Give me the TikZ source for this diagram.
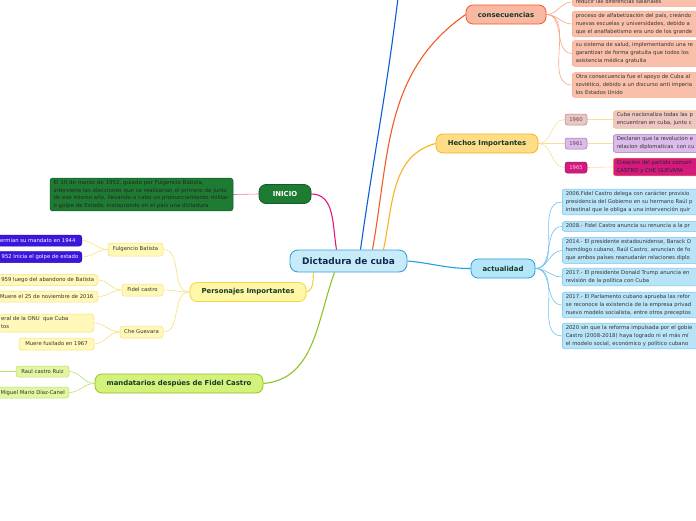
\documentclass[tikz,border=0pt]{standalone}
\usepackage{fontspec}
\setmainfont{DejaVu Sans}
\usetikzlibrary{backgrounds}

\definecolor{rootfill}{HTML}{C8EBFA}
\definecolor{rootline}{HTML}{3E9ED8}
\definecolor{roottext}{HTML}{10294F}
\definecolor{topictext}{HTML}{163A28}
\definecolor{leaftext}{HTML}{333333}
\definecolor{inicioline}{HTML}{E5157F}
\definecolor{iniciofill}{HTML}{1E7B32}
\definecolor{inicioedge}{HTML}{115C22}
\definecolor{persfill}{HTML}{FFF6A6}
\definecolor{persline}{HTML}{F2D53C}
\definecolor{persleaf}{HTML}{FFF8B8}
\definecolor{persedge}{HTML}{F6E07A}
\definecolor{batfill}{HTML}{3C16DD}
\definecolor{batedge}{HTML}{2A0FB0}
\definecolor{mandfill}{HTML}{D4F17C}
\definecolor{mandline}{HTML}{8FC31F}
\definecolor{mandleaf}{HTML}{E2F5A0}
\definecolor{mandedge}{HTML}{BCE06E}
\definecolor{consfill}{HTML}{F9B8A1}
\definecolor{consline}{HTML}{F15A29}
\definecolor{consleaf}{HTML}{F9BFAA}
\definecolor{consedge}{HTML}{F8A487}
\definecolor{hechfill}{HTML}{FEDC88}
\definecolor{hechline}{HTML}{F8B21A}
\definecolor{hechtwig}{HTML}{FCDD9A}
\definecolor{yrAfill}{HTML}{E9C6C6}
\definecolor{yrAedge}{HTML}{B88484}
\definecolor{yrBfill}{HTML}{DCBBE8}
\definecolor{yrBedge}{HTML}{9C71B4}
\definecolor{yrCfill}{HTML}{D4197F}
\definecolor{yrCedge}{HTML}{A4105E}
\definecolor{detAfill}{HTML}{EEC7C1}
\definecolor{detAedge}{HTML}{F3C67E}
\definecolor{detCedge}{HTML}{F0A040}
\definecolor{actfill}{HTML}{B5E5F9}
\definecolor{actline}{HTML}{1E9FE2}
\definecolor{actleaf}{HTML}{B9E4F8}
\definecolor{actedge}{HTML}{6CC3EF}
\definecolor{topline}{HTML}{0A5ED6}

\tikzset{
  root/.style={draw=rootline, fill=rootfill, line width=0.9pt, rounded corners=8pt,
    font=\bfseries\fontsize{9}{10}\selectfont, text=roottext,
    minimum width=117pt, minimum height=22pt, inner sep=0pt},
  topic/.style={line width=0.8pt, rounded corners=7pt,
    font=\bfseries\fontsize{6.9}{8}\selectfont, text=topictext,
    minimum height=19pt, inner sep=0pt},
  leaf/.style={line width=0.5pt, rounded corners=2.5pt,
    font=\fontsize{5.3}{8}\selectfont, text=leaftext, align=left,
    inner xsep=3.5pt, inner ysep=2.3pt},
  farleaf/.style={leaf, anchor=west, text width=200pt},
  branch/.style={line width=1.1pt},
  twig/.style={line width=0.6pt},
}

\begin{document}
\begin{tikzpicture}[x=1pt,y=1pt]
  \useasboundingbox (0,0) rectangle (696,-520); %Page size

  \node[root] (cuba) at (348.5,-261) {Dictadura de cuba}; %Central topic

  % INICIO
  \node[topic, draw=inicioedge, fill=iniciofill, text=white, minimum width=52pt] (inicio) at (285,-194) {INICIO};
  \node[leaf, draw=inicioedge, fill=iniciofill, text=black!85, text width=176pt, font=\fontsize{5.5}{7.6}\selectfont] (golpe) at (141.5,-194.5)
    {El 10 de marzo de 1952, guiado por Fulgencio Batista,\\interviene las elecciones que se realizarían el primero de junio\\de ese mismo año, llevando a cabo un pronunciamiento militar\\o golpe de Estado, instaurando en el país una dictadura};

  % Personajes Importantes
  \node[topic, draw=persline, fill=persfill, minimum width=116pt] (pers) at (248,-292) {Personajes Importantes};
  \node[leaf, draw=persedge, fill=persleaf, minimum width=55pt, minimum height=13pt, inner sep=0pt] (batista) at (135.5,-249.5) {Fulgencio Batista};
  \node[leaf, draw=persedge, fill=persleaf, minimum width=41pt, minimum height=12pt, inner sep=0pt] (fidel) at (142.5,-290) {Fidel castro};
  \node[leaf, draw=persedge, fill=persleaf, minimum width=43pt, minimum height=12pt, inner sep=0pt] (che) at (141.5,-332) {Che Guevara};
  \node[leaf, draw=batedge, fill=batfill, text=white, anchor=east, minimum width=88pt, minimum height=11pt, inner ysep=0pt] (bat1) at (82,-240.5) {ermian su mandato en 1944};
  \node[leaf, draw=batedge, fill=batfill, text=white, anchor=east, minimum width=82pt, minimum height=11pt, inner ysep=0pt] (bat2) at (82,-257) {952 Inicia el golpe de estado};
  \node[leaf, draw=persedge, fill=persleaf, anchor=east, minimum width=100pt, minimum height=11pt, inner ysep=0pt] (fid1) at (98,-280) {959 luego del abandono de Batista};
  \node[leaf, draw=persedge, fill=persleaf, anchor=east, minimum width=102pt, minimum height=11pt, inner ysep=0pt] (fid2) at (98,-296.5) {Muere el 25 de noviembre de 2016};
  \node[leaf, draw=persedge, fill=persleaf, anchor=east, minimum width=118pt, minimum height=18pt, inner ysep=0pt] (che1) at (94,-323) {eral de la ONU\ \ que Cuba\\tos};
  \node[leaf, draw=persedge, fill=persleaf, minimum width=75pt, minimum height=12pt, inner ysep=0pt] (che2) at (56.5,-344) {Muere fusilado en 1967};

  % mandatarios
  \node[topic, draw=mandline, fill=mandfill, minimum width=168pt] (mand) at (179,-383.5) {mandatarios despúes de Fidel Castro};
  \node[leaf, draw=mandedge, fill=mandleaf, minimum width=53pt, minimum height=11pt, inner sep=0pt] (raul) at (42.5,-371.5) {Raul castro Ruiz};
  \node[leaf, draw=mandedge, fill=mandleaf, anchor=east, minimum width=72pt, minimum height=11pt, inner ysep=0pt] (canel) at (69,-392.5) {Miguel Mario Díaz-Canel};
  \coordinate (raulout) at (-2,-371.5);

  % consecuencias
  \node[topic, draw=consline, fill=consfill, minimum width=80pt] (cons) at (506,-14.5) {consecuencias};
  \node[farleaf, draw=consedge, fill=consleaf, anchor=south west] (cons0) at (572,-6.5) {reducir las diferencias salariales};
  \node[farleaf, draw=consedge, fill=consleaf] (cons1) at (572,-24) {proceso de alfabetización del país, creándo\\nuevas escuelas y universidades, debido a\\que el analfabetismo era uno de los grande};
  \node[farleaf, draw=consedge, fill=consleaf] (cons2) at (572,-53.5) {su sistema de salud, implementando una re\\garantizar de forma gratuita que todos los\\asistencia médica gratuita};
  \node[farleaf, draw=consedge, fill=consleaf] (cons3) at (572,-85) {Otra consecuencia fue el apoyo de Cuba al\\soviético, debido a un discurso anti imperia\\los Estados Unido};
  \coordinate (topout) at (398,2);

  % Hechos Importantes
  \node[topic, draw=hechline, fill=hechfill, minimum width=102pt] (hech) at (487,-143.5) {Hechos Importantes};
  \node[leaf, draw=yrAedge, fill=yrAfill, text=yrAedge!60!black, minimum width=22pt, minimum height=11pt, inner sep=0pt] (y1960) at (576,-119.5) {1960};
  \node[leaf, draw=yrBedge, fill=yrBfill, text=yrBedge!60!black, minimum width=22pt, minimum height=11pt, inner sep=0pt] (y1961) at (576,-143.5) {1961};
  \node[leaf, draw=yrCedge, fill=yrCfill, text=yrCfill!25, minimum width=22pt, minimum height=11pt, inner sep=0pt] (y1965) at (576,-167.5) {1965};
  \node[farleaf, draw=detAedge, fill=detAfill] (d1960) at (613,-119.5) {Cuba nacionaliza todas las p\\encuentran en cuba, junto c};
  \node[farleaf, draw=yrBedge, fill=yrBfill] (d1961) at (613,-143.5) {Declaran que la revolucion e\\relacion diplomaticas\ \ con cu};
  \node[farleaf, draw=detCedge, fill=yrCfill, text=black!85] (d1965) at (613,-167) {Creacion del partido comuni\\CASTRO y CHE GUEVARA};

  % actualidad
  \node[topic, draw=actline, fill=actfill, minimum width=64pt] (act) at (503,-268.5) {actualidad};
  \node[farleaf, draw=actedge, fill=actleaf] (act1) at (562,-202) {2006.Fidel Castro delega con carácter provisio\\presidencia del Gobierno en su hermano Raúl p\\intestinal que le obliga a una intervención quir};
  \node[farleaf, draw=actedge, fill=actleaf] (act2) at (562,-226.5) {2008.- Fidel Castro anuncia su renuncia a la pr};
  \node[farleaf, draw=actedge, fill=actleaf] (act3) at (562,-250.5) {2014.- El presidente estadounidense, Barack O\\homólogo cubano, Raúl Castro, anuncian de fo\\que ambos países reanudarán relaciones diplo};
  \node[farleaf, draw=actedge, fill=actleaf] (act4) at (562,-277) {2017.- El presidente Donald Trump anuncia en\\revisión de la política con Cuba};
  \node[farleaf, draw=actedge, fill=actleaf] (act5) at (562,-305) {2017.- El Parlamento cubano aprueba las refor\\se reconoce la existencia de la empresa privad\\nuevo modelo socialista, entre otros preceptos};
  \node[farleaf, draw=actedge, fill=actleaf] (act6) at (562,-336) {2020 sin que la reforma impulsada por el gobie\\Castro (2008-2018) haya logrado ni el más mí\\el modelo social, económico y político cubano};

  \begin{scope}[on background layer]
    \draw[branch, inicioline] ([xshift=-12pt]cuba.north) to[out=100,in=0] (inicio.east); %Branch INICIO
    \draw[twig, inicioline!60] (inicio.west) -- (golpe.east);
    \draw[branch, topline] ([xshift=12pt]cuba.north) to[out=82,in=-97] (topout); %Branch off page
    \draw[branch, consline] ([xshift=24pt]cuba.north) to[out=80,in=215] (cons.west); %Branch consecuencias
    \draw[branch, hechline] ([xshift=35pt]cuba.north) to[out=78,in=195] (hech.west); %Branch hechos
    \draw[branch, actline] (cuba.east) to[out=-5,in=180] (act.west); %Branch actualidad
    \draw[branch, persline] ([xshift=-35pt]cuba.south) to[out=-95,in=20] (pers.east); %Branch personajes
    \draw[branch, mandline] ([xshift=-14pt]cuba.south) to[out=-110,in=5] (mand.east); %Branch mandatarios

    \foreach \leaf in {cons0,cons1,cons2,cons3}
      \draw[twig, consedge] (cons.east) to[out=0,in=180] (\leaf.west);
    \foreach \leaf in {y1960,y1961,y1965}
      \draw[twig, hechtwig] (hech.east) to[out=0,in=180] (\leaf.west);
    \draw[twig, hechtwig] (y1960.east) -- (d1960.west);
    \draw[twig, hechtwig] (y1961.east) -- (d1961.west);
    \draw[twig, hechtwig] (y1965.east) -- (d1965.west);
    \foreach \leaf in {act1,act2,act3,act4,act5,act6}
      \draw[twig, actedge] (act.east) to[out=0,in=180] (\leaf.west);

    \foreach \leaf in {batista,fidel,che}
      \draw[twig, persedge] (pers.west) to[out=180,in=0] (\leaf.east);
    \draw[twig, persedge] (batista.west) to[out=180,in=0] (bat1.east);
    \draw[twig, persedge] (batista.west) to[out=180,in=0] (bat2.east);
    \draw[twig, persedge] (fidel.west) to[out=180,in=0] (fid1.east);
    \draw[twig, persedge] (fidel.west) to[out=180,in=0] (fid2.east);
    \draw[twig, persedge] (che.west) to[out=180,in=0] (che1.east);
    \draw[twig, persedge] (che.west) to[out=180,in=0] (che2.east);

    \draw[twig, mandedge] (mand.west) to[out=180,in=0] (raul.east);
    \draw[twig, mandedge] (mand.west) to[out=180,in=0] (canel.east);
    \draw[twig, mandedge] (raul.west) -- (raulout);
  \end{scope}
\end{tikzpicture}
\end{document}
